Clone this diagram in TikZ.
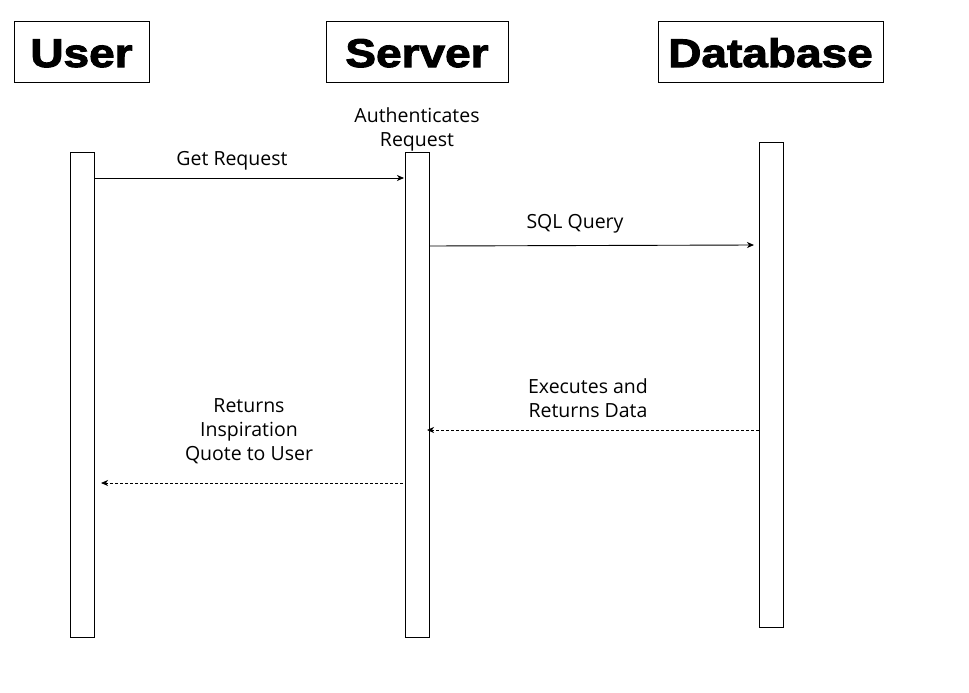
\documentclass[tikz,border=0pt]{standalone}
\usepackage{fontspec}
\setmainfont{Open Sans}
\newfontfamily\hdrfont[FakeStretch=1.15,FakeBold=2.5]{Liberation Sans Bold}
\usetikzlibrary{arrows.meta}
\tikzset{
  hdr/.style={draw=black, line width=1pt, inner sep=0pt, minimum height=60pt, text height=30pt, text depth=0pt, font=\hdrfont\fontsize{40}{40}\selectfont},
  life/.style={draw=black, line width=1pt, fill=white, inner sep=0pt, minimum width=24pt},
  lbl/.style={align=center, font=\fontsize{19.5}{24}\selectfont, inner sep=0pt},
  msg/.style={line width=0.9pt, -{Stealth[length=7pt,width=6pt,inset=2pt]}},
  ret/.style={msg, dash pattern=on 3pt off 2pt}
}
\begin{document}
\begin{tikzpicture}[x=1pt,y=-1pt]
\useasboundingbox (0,0) rectangle (969,693);
\fill[white] (0,0) rectangle (969,693);
% headers
\node[hdr, minimum width=135pt] (user) at (81.5,52) {User};
\node[hdr, minimum width=182pt] (server) at (417,52) {Server};
\node[hdr, minimum width=225pt] (db) at (770.5,52) {Database};
% lifelines
\node[life, minimum height=485pt] (ul) at (82,394.5) {};
\node[life, minimum height=485pt] (sl) at (417,394.5) {};
\node[life, minimum height=485pt] (dl) at (771,384.5) {};
% coordinates for message ends
\coordinate (m1s) at (ul.east |- 0,178);
\coordinate (m1e) at (404,178);
\coordinate (m2s) at (sl.east |- 0,246);
\coordinate (m2e) at (754,245);
\coordinate (m3s) at (dl.west |- 0,430);
\coordinate (m3e) at (427,430);
\coordinate (m4s) at (403,483);
\coordinate (m4e) at (101,483);
\draw[msg] (m1s) -- (m1e);
\draw[msg] (m2s) -- (m2e);
\draw[ret] (m3s) -- (m3e);
\draw[ret] (m4s) -- (m4e);
% labels
\node[lbl] (l1) at (232,161) {Get Request};
\node[lbl] (l0) at (417,129) {Authenticates\\Request};
\node[lbl] (l2) at (575,224) {SQL Query};
\node[lbl] (l3) at (588,398) {Executes and\\Returns Data};
\node[lbl] (l4) at (249,431) {Returns\\Inspiration\\Quote to User};
\end{tikzpicture}
\end{document}
